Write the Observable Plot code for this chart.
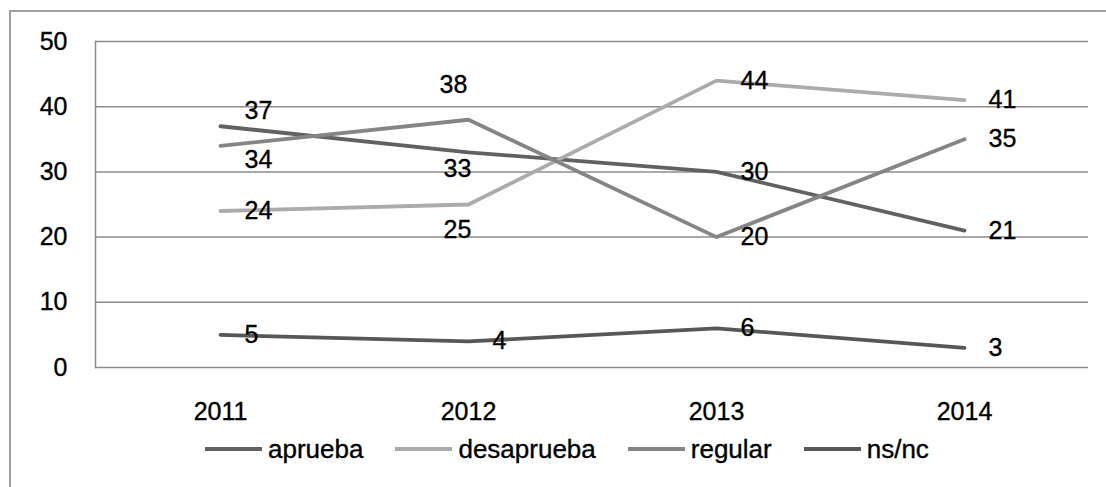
<!DOCTYPE html>
<html>
<head>
<meta charset="utf-8">
<script src="https://cdn.jsdelivr.net/npm/d3@7"></script>
<script src="https://cdn.jsdelivr.net/npm/@observablehq/plot@0.6"></script>
<style>
  html, body { margin: 0; padding: 0; background: #fff; overflow: hidden; }
  body { width: 1106px; height: 487px; position: relative; font-family: "Liberation Sans", Arial, sans-serif; }
  #frame { position: absolute; left: 9px; top: 10px; width: 1120px; height: 500px; border: 2px solid #a0a0a0; box-sizing: border-box; }
  #chart { position: absolute; left: 0; top: 0; }
  #chart svg text { stroke: #000; stroke-width: 0.35px; }
  #legend { position: absolute; left: 205px; top: 434px; display: flex; align-items: center; font-size: 26px; line-height: 30px; color: #000; white-space: nowrap; -webkit-text-stroke: 0.35px #000; }
  .item { display: flex; align-items: center; margin-right: 32px; }
  .swatch { width: 57px; height: 4px; margin-right: 6px; }
</style>
</head>
<body>
<div id="frame"></div>
<div id="chart"></div>
<div id="legend"></div>
<script>
const years = ["2011", "2012", "2013", "2014"];
const seriesNames = ["aprueba", "desaprueba", "regular", "ns/nc"];
const aprueba = [37, 33, 30, 21];
const desaprueba = [24, 25, 44, 41];
const regular = [34, 38, 20, 35];
const nsnc = [5, 4, 6, 3];
const yTicks = [0, 10, 20, 30, 40, 50];
const colors = ["#616161", "#ababab", "#858585", "#575757"];

const values = [aprueba, desaprueba, regular, nsnc];
const data = [];
seriesNames.forEach((s, i) => years.forEach((y, j) => data.push({series: s, year: y, value: values[i][j]})));

// label placement tweaks (as in the original chart), otherwise labels sit to the right of the point
const nudges = [
  {series: "aprueba", year: "2011", dx: 24, dy: -15, anchor: "start"},
  {series: "regular", year: "2011", dx: 24, dy: 14, anchor: "start"},
  {series: "regular", year: "2012", dx: -15, dy: -35, anchor: "middle"},
  {series: "aprueba", year: "2012", dx: -11, dy: 17, anchor: "middle"},
  {series: "desaprueba", year: "2012", dx: -11, dy: 25, anchor: "middle"}
];
const key = d => d.series + "|" + d.year;
const nudgeKeys = new Set(nudges.map(key));

const labelMarks = [
  Plot.text(data.filter(d => !nudgeKeys.has(key(d))), {
    x: "year", y: "value", text: d => String(d.value),
    textAnchor: "start", dx: 24, fill: "#000", fontSize: 25
  }),
  ...nudges.map(n => Plot.text(data.filter(d => key(d) === key(n)), {
    x: "year", y: "value", text: d => String(d.value),
    textAnchor: n.anchor, dx: n.dx, dy: n.dy, fill: "#000", fontSize: 25
  }))
];

const plot = Plot.plot({
  width: 1106,
  height: 425,
  marginLeft: 95,
  marginRight: 18,
  marginTop: 41,
  marginBottom: 58,
  style: {fontFamily: '"Liberation Sans", Arial, sans-serif', fontSize: "25px", color: "#000", background: "transparent"},
  x: {type: "point", domain: years, padding: 0.5, label: null},
  y: {domain: [0, 50], label: null},
  color: {domain: seriesNames, range: colors},
  marks: [
    Plot.ruleY(yTicks, {stroke: "#8c8c8c", strokeWidth: 1.5}),
    Plot.frame({anchor: "left", stroke: "#8c8c8c", strokeWidth: 1.5}),
    Plot.axisY(yTicks, {tickSize: 0, tickPadding: 28, fontSize: 25, fill: "#000", label: null}),
    Plot.axisX({tickSize: 0, tickPadding: 35, fontSize: 25, fill: "#000", label: null}),
    Plot.line(data, {x: "year", y: "value", z: "series", stroke: "series", strokeWidth: 3.8, strokeLinejoin: "round", strokeLinecap: "round"}),
    ...labelMarks
  ]
});
document.getElementById("chart").appendChild(plot);

const legend = d3.select("#legend");
seriesNames.forEach((s, i) => {
  const item = legend.append("div").attr("class", "item");
  item.append("div").attr("class", "swatch").style("background", colors[i]);
  item.append("span").text(s);
});
</script>
</body>
</html>
